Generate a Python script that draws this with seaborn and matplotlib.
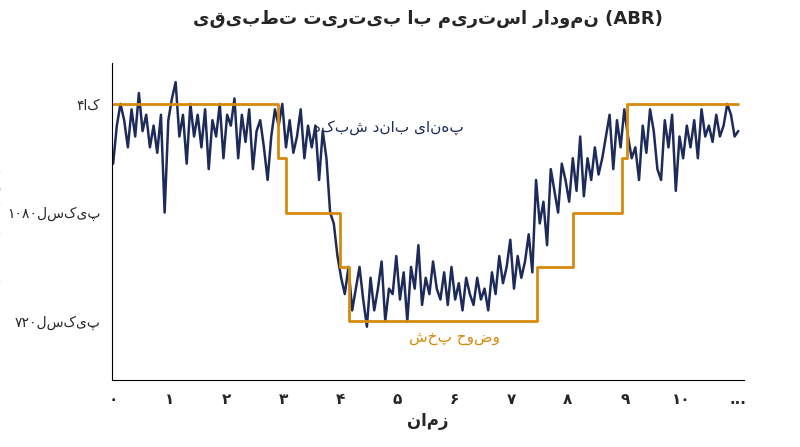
import numpy as np
import pandas as pd
import matplotlib
matplotlib.use("Agg")
import matplotlib.pyplot as plt
import seaborn as sns

def rtl(s):
    return s[::-1]

# time step 0.1, 0..11
bandwidth = [2.45, 2.8, 3.0, 2.85, 2.6, 2.95, 2.7, 3.1, 2.75, 2.9, 2.6,
             2.8, 2.55, 2.9, 2.0, 2.85, 3.05, 3.2, 2.7, 2.9, 2.45, 3.0,
             2.7, 2.9, 2.6, 2.95, 2.4, 2.85, 2.7, 3.0, 2.5, 2.9,
             2.8, 3.05, 2.5, 2.9, 2.65, 2.95, 2.4, 2.75, 2.85,
             2.6, 2.3, 2.7, 2.95, 2.8, 3.0, 2.6, 2.85, 2.55, 2.7,
             2.95, 2.5, 2.8, 2.6, 2.8, 2.3, 2.75, 2.5, 2.0, 1.9,
             1.6, 1.4, 1.25, 1.5, 1.1, 1.3, 1.5, 1.2, 0.95, 1.4,
             1.1, 1.3, 1.55, 1.0, 1.3, 1.25, 1.6, 1.2, 1.45, 1.0,
             1.5, 1.3, 1.7, 1.15, 1.4, 1.25, 1.55, 1.3, 1.2, 1.45,
             1.15, 1.5, 1.2, 1.35, 1.1, 1.4, 1.25, 1.15, 1.4, 1.2,
             1.3, 1.1, 1.45, 1.25, 1.6, 1.35, 1.5, 1.75, 1.3, 1.6,
             1.4, 1.55, 1.8, 1.45, 2.3, 1.9, 2.1, 1.7, 2.4, 2.2,
             2.0, 2.45, 2.3, 2.1, 2.5, 2.2, 2.7, 2.15, 2.5, 2.3,
             2.6, 2.35, 2.5, 2.7, 2.9, 2.4, 2.85, 2.6, 2.95, 2.7,
             2.5, 2.6, 2.3, 2.8, 2.55, 2.95, 2.75, 2.4, 2.3, 2.85,
             2.6, 2.9, 2.2, 2.7, 2.5, 2.8, 2.6, 2.85, 2.5, 2.95,
             2.7, 2.8, 2.65, 2.9, 2.7, 2.8, 3.0, 2.9, 2.7, 2.75]
time = np.round(np.linspace(0, 11, len(bandwidth)), 3)

step_x = [0, 2.9, 3.05, 4.0, 4.15, 7.45, 8.1, 8.95, 9.05, 11]
step_y = [3, 2.5, 2, 1.5, 1, 1.5, 2, 2.5, 3, 3]

ytick_vals = [1, 2, 3]
ytick_labels = ["۷۲۰" + rtl("پیکسل"), "۱۰۸۰" + rtl("پیکسل"), "۴" + rtl("کا")]
xtick_vals = list(range(11)) + [11]
xtick_labels = ["۰", "۱", "۲", "۳", "۴", "۵", "۶", "۷", "۸", "۹", "۱۰", "..."]

navy = "#1d2b5a"
orange = "#d68a0c"

sns.set_style("white")
plt.rcParams["font.family"] = ["DejaVu Sans"]

fig, ax = plt.subplots(figsize=(8, 4.47), dpi=100)
df = pd.DataFrame({"t": time, "bw": bandwidth})
sns.lineplot(data=df, x="t", y="bw", color=navy, lw=1.8, ax=ax)
ax.step(step_x, step_y, where="post", color=orange, lw=2)

ax.text(4.85, 2.78, rtl("پهنای باند شبکه"), color=navy, fontsize=11, ha="center", va="center")
ax.text(6.0, 0.85, rtl("وضوح پخش"), color=orange, fontsize=11, ha="center", va="center")

ax.set_xlim(-0.02, 11.1)
ax.set_ylim(0.46, 3.38)
ax.set_xticks(xtick_vals)
ax.set_xticklabels(xtick_labels, fontsize=11, fontweight="bold")
ax.set_yticks(ytick_vals)
ax.set_yticklabels(ytick_labels, fontsize=10)
ax.tick_params(axis="both", length=5, color="black", direction="out")
for s in ["top", "right"]:
    ax.spines[s].set_visible(False)
for s in ["left", "bottom"]:
    ax.spines[s].set_color("black")
ax.set_xlabel(rtl("زمان"), fontsize=12, fontweight="bold")
ax.set_ylabel(rtl("وضوح ویدیو"), fontsize=12, fontweight="bold")
ax.set_title(rtl("نمودار استریم با بیت‌ریت تطبیقی") + " (ABR)", fontsize=13, fontweight="bold", pad=28)

fig.subplots_adjust(left=0.14, right=0.93, top=0.86, bottom=0.15)
fig.savefig("out.png", dpi=100)
